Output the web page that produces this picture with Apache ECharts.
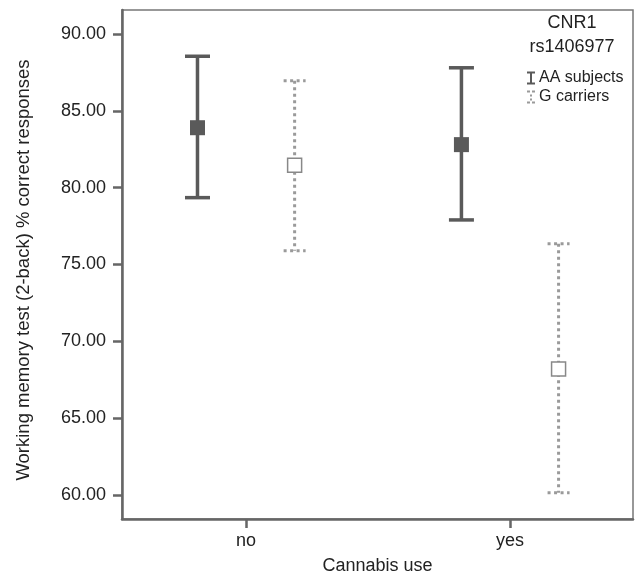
<!DOCTYPE html>
<html>
<head>
<meta charset="utf-8">
<script src="https://cdn.jsdelivr.net/npm/echarts@6/dist/echarts.min.js"></script>
<style>
html,body{margin:0;padding:0;background:#fff;}
#main{width:641px;height:581px;}
</style>
</head>
<body>
<div id="main"></div>
<script>
var categories = ['no', 'yes'];
var yTicks = [60, 65, 70, 75, 80, 85, 90];
var aaMean = [83.9, 82.8];
var aaLow = [79.35, 77.9];
var aaHigh = [88.55, 87.8];
var gMean = [81.45, 68.2];
var gLow = [75.9, 60.15];
var gHigh = [86.95, 76.35];

var catPos = [1, 2];
var offset = 0.184;
var FONT = 'Liberation Sans, Arial, sans-serif';
var AA_COLOR = '#5a5a5a';
var G_COLOR = '#9a9a9a';

function barData(low, high, shift) {
  return categories.map(function (c, i) { return [catPos[i] + shift, low[i], high[i]]; });
}
function meanData(mean, shift) {
  return categories.map(function (c, i) { return [catPos[i] + shift, mean[i]]; });
}

function makeRender(color, width, dash, capHalf) {
  return function (params, api) {
    var x = api.value(0);
    var lo = api.coord([x, api.value(1)]);
    var hi = api.coord([x, api.value(2)]);
    var style = { stroke: color, lineWidth: width, lineDash: dash, fill: null };
    return {
      type: 'group',
      children: [
        { type: 'line', shape: { x1: hi[0], y1: hi[1], x2: lo[0], y2: lo[1] }, style: style },
        { type: 'line', shape: { x1: hi[0] - capHalf, y1: hi[1], x2: hi[0] + capHalf, y2: hi[1] }, style: style },
        { type: 'line', shape: { x1: lo[0] - capHalf, y1: lo[1], x2: lo[0] + capHalf, y2: lo[1] }, style: style }
      ]
    };
  };
}

var chart = echarts.init(document.getElementById('main'), null, { renderer: 'canvas' });
chart.setOption({
  animation: false,
  backgroundColor: '#fff',
  textStyle: { fontFamily: FONT },
  grid: { left: 122, right: 8, top: 10, bottom: 62, show: true, borderColor: '#777', borderWidth: 1.5, containLabel: false },
  graphic: [
    { type: 'text', x: 572, y: 23.5, style: { text: 'CNR1', x: 0, y: 0, align: 'center', verticalAlign: 'middle', fontSize: 18, fill: '#222', fontFamily: FONT } },
    { type: 'text', x: 572, y: 47.5, style: { text: 'rs1406977', x: 0, y: 0, align: 'center', verticalAlign: 'middle', fontSize: 18, fill: '#222', fontFamily: FONT } }
  ],
  legend: {
    orient: 'vertical',
    left: 522, top: 65,
    itemGap: 3,
    itemWidth: 8, itemHeight: 13,
    textStyle: { fontSize: 16, color: '#222', fontFamily: FONT, padding: [0, 0, 0, -1] },
    data: [
      { name: 'AA subjects', icon: 'path://M0,0 L8,0 L8,2 L5,2 L5,11 L8,11 L8,13 L0,13 L0,11 L3,11 L3,2 L0,2 Z', itemStyle: { color: AA_COLOR } },
      { name: 'G carriers', icon: 'path://M0,0 L3,0 L3,2 L0,2 Z M5,0 L8,0 L8,2 L5,2 Z M3,4 L5,4 L5,6 L3,6 Z M3,8 L5,8 L5,10 L3,10 Z M0,11 L3,11 L3,13 L0,13 Z M5,11 L8,11 L8,13 L5,13 Z', itemStyle: { color: G_COLOR } }
    ]
  },
  xAxis: {
    type: 'value',
    min: 0.53, max: 2.466,
    name: 'Cannabis use',
    nameLocation: 'middle',
    nameGap: 38,
    nameTextStyle: { fontSize: 18, color: '#222', fontFamily: FONT },
    splitLine: { show: false },
    axisLine: { show: true, lineStyle: { color: '#666', width: 2.5 } },
    axisTick: { show: true, length: 9, lineStyle: { color: '#666', width: 2.5 }, customValues: catPos },
    axisLabel: { show: true, fontSize: 18, color: '#222', margin: 13, fontFamily: FONT, customValues: catPos,
      formatter: function (v) { var i = catPos.indexOf(Math.round(v)); return i >= 0 ? categories[i] : ''; } }
  },
  yAxis: {
    type: 'value',
    min: 58.44, max: 91.56,
    name: 'Working memory test (2-back) % correct responses',
    nameLocation: 'middle',
    nameGap: 89,
    nameTextStyle: { fontSize: 18.5, color: '#222', fontFamily: FONT, padding: [0, 11, 0, 0] },
    splitLine: { show: false },
    axisLine: { show: true, lineStyle: { color: '#666', width: 2.5 } },
    axisTick: { show: true, length: 9, lineStyle: { color: '#666', width: 2.5 }, customValues: yTicks },
    axisLabel: { show: true, fontSize: 18, color: '#222', margin: 16, fontFamily: FONT, customValues: yTicks,
      formatter: function (v) { return Number(v).toFixed(2); } }
  },
  series: [
    {
      name: 'AA subjects', type: 'custom', itemStyle: { color: AA_COLOR },
      renderItem: makeRender(AA_COLOR, 3.5, null, 12.5),
      data: barData(aaLow, aaHigh, -offset), z: 2
    },
    {
      name: 'G carriers', type: 'custom', itemStyle: { color: G_COLOR },
      renderItem: makeRender(G_COLOR, 3, [3, 3.5], 11),
      data: barData(gLow, gHigh, offset), z: 2
    },
    {
      name: 'AA mean', type: 'scatter', symbol: 'rect', symbolSize: 15,
      itemStyle: { color: AA_COLOR, opacity: 1 },
      data: meanData(aaMean, -offset), z: 5
    },
    {
      name: 'G mean', type: 'scatter', symbol: 'rect', symbolSize: 14,
      itemStyle: { color: '#fff', borderColor: '#888', borderWidth: 1.5, opacity: 1 },
      data: meanData(gMean, offset), z: 5
    }
  ]
});
</script>
</body>
</html>
